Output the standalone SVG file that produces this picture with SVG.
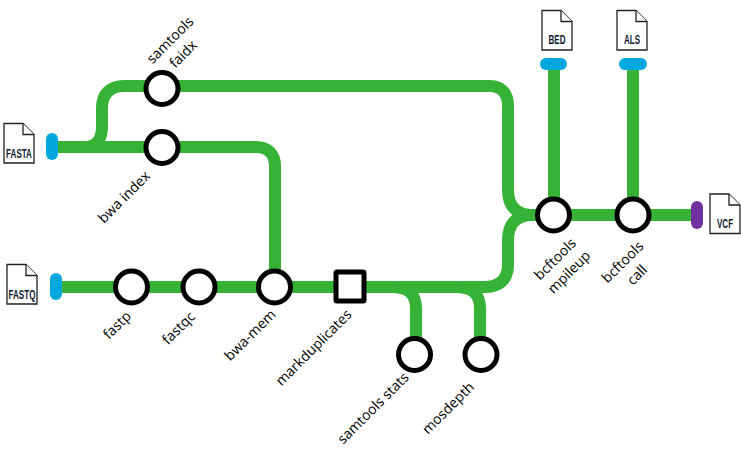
<svg xmlns="http://www.w3.org/2000/svg" width="741" height="459" viewBox="0 0 741 459">
<style>
.ln{fill:none;stroke:#36b336;stroke-width:12}
.st{fill:#fff;stroke:#000;stroke-width:5}
.lb{font-family:"Open Sans","Noto Sans",sans-serif;font-size:14px;fill:#000;text-anchor:middle}
.fl{fill:#fff;stroke:#222;stroke-width:1.3}
.ft{font-family:"Liberation Sans",Arial,sans-serif;font-weight:700;font-size:13px;fill:#0c1a30;text-anchor:middle}
</style>
<defs>
<g id="doc"><path class="fl" d="M0 0H19L30 11V39.500H0Z"/><path class="fl" d="M19 0V11H30"/></g>
</defs>
<rect width="741" height="459" fill="#fff"/>
<g id="connectors">
<path class="ln" d="M52 147H162M84 147C97 147 102 139 102 126V108C102 94 110 86 124 86H490C502 86 508 94 508 106V190C508 206 516 215 532 215H697"/>
<path class="ln" d="M162 147H256C268 147 275 154 275 166V287"/>
<path class="ln" d="M56 287H484C500 287 508 279 508 265V240C508 224 516 215 532 215"/>
<path class="ln" d="M392 287C408 287 416 294 416 308V354M456 287C472 287 480 294 480 308V354"/>
<path class="ln" d="M554 64V215M633 64V215"/>
</g>
<g id="src-fasta"><use href="#doc" x="4" y="123.500"/><text class="ft" transform="translate(19 158) scale(.62 1)">FASTA</text><rect x="46" y="133" width="12" height="27" rx="6" fill="#00a8e0"/></g>
<g id="src-fastq"><use href="#doc" x="7" y="264.500"/><text class="ft" transform="translate(22 298.500) scale(.62 1)">FASTQ</text><rect x="50" y="273" width="12" height="27" rx="6" fill="#00a8e0"/></g>
<g id="src-bed"><use href="#doc" x="542" y="10.500"/><text class="ft" transform="translate(557 44) scale(.62 1)">BED</text><rect x="540" y="58" width="27" height="12" rx="6" fill="#00a8e0"/></g>
<g id="src-als"><use href="#doc" x="617" y="10.500"/><text class="ft" transform="translate(632 44) scale(.62 1)">ALS</text><rect x="619" y="58" width="28" height="12" rx="6" fill="#00a8e0"/></g>
<g id="out-vcf"><use href="#doc" x="710" y="194"/><text class="ft" transform="translate(725 227.500) scale(.62 1)">VCF</text><rect x="691" y="201" width="12" height="28" rx="6" fill="#7030a0"/></g>
<g id="samtools-faidx"><circle class="st" cx="162" cy="88.500" r="16"/><text class="lb" dy=".35em" transform="translate(170 40) rotate(-45)">samtools</text><text class="lb" dy=".35em" transform="translate(183 54) rotate(-45)">faidx</text></g>
<g id="bwa-index"><circle class="st" cx="162" cy="147.500" r="16"/><text class="lb" dy=".35em" transform="translate(124 197) rotate(-45)">bwa index</text></g>
<g id="fastp"><circle class="st" cx="131.500" cy="287" r="16"/><text class="lb" dy=".35em" transform="translate(117 325) rotate(-45)">fastp</text></g>
<g id="fastqc"><circle class="st" cx="199" cy="287" r="16"/><text class="lb" dy=".35em" transform="translate(178.500 328) rotate(-45)">fastqc</text></g>
<g id="bwa-mem"><circle class="st" cx="274.500" cy="287" r="16"/><text class="lb" dy=".35em" transform="translate(250 335) rotate(-45)">bwa-mem</text></g>
<g id="markduplicates"><rect class="st" x="336" y="272" width="28" height="29" rx="1"/><text class="lb" dy=".35em" transform="translate(313.500 347.500) rotate(-45)">markduplicates</text></g>
<g id="samtools-stats"><circle class="st" cx="414.500" cy="354.500" r="16"/><text class="lb" dy=".35em" transform="translate(373 408) rotate(-45)">samtools stats</text></g>
<g id="mosdepth"><circle class="st" cx="481" cy="354.500" r="16"/><text class="lb" dy=".35em" transform="translate(448 408) rotate(-45)">mosdepth</text></g>
<g id="bcftools-mpileup"><circle class="st" cx="553.500" cy="215" r="16"/><text class="lb" dy=".35em" transform="translate(555 259) rotate(-45)">bcftools</text><text class="lb" dy=".35em" transform="translate(569 272) rotate(-45)">mpileup</text></g>
<g id="bcftools-call"><circle class="st" cx="633" cy="215" r="16"/><text class="lb" dy=".35em" transform="translate(622.500 262) rotate(-45)">bcftools</text><text class="lb" dy=".35em" transform="translate(637 275) rotate(-45)">call</text></g>
</svg>
